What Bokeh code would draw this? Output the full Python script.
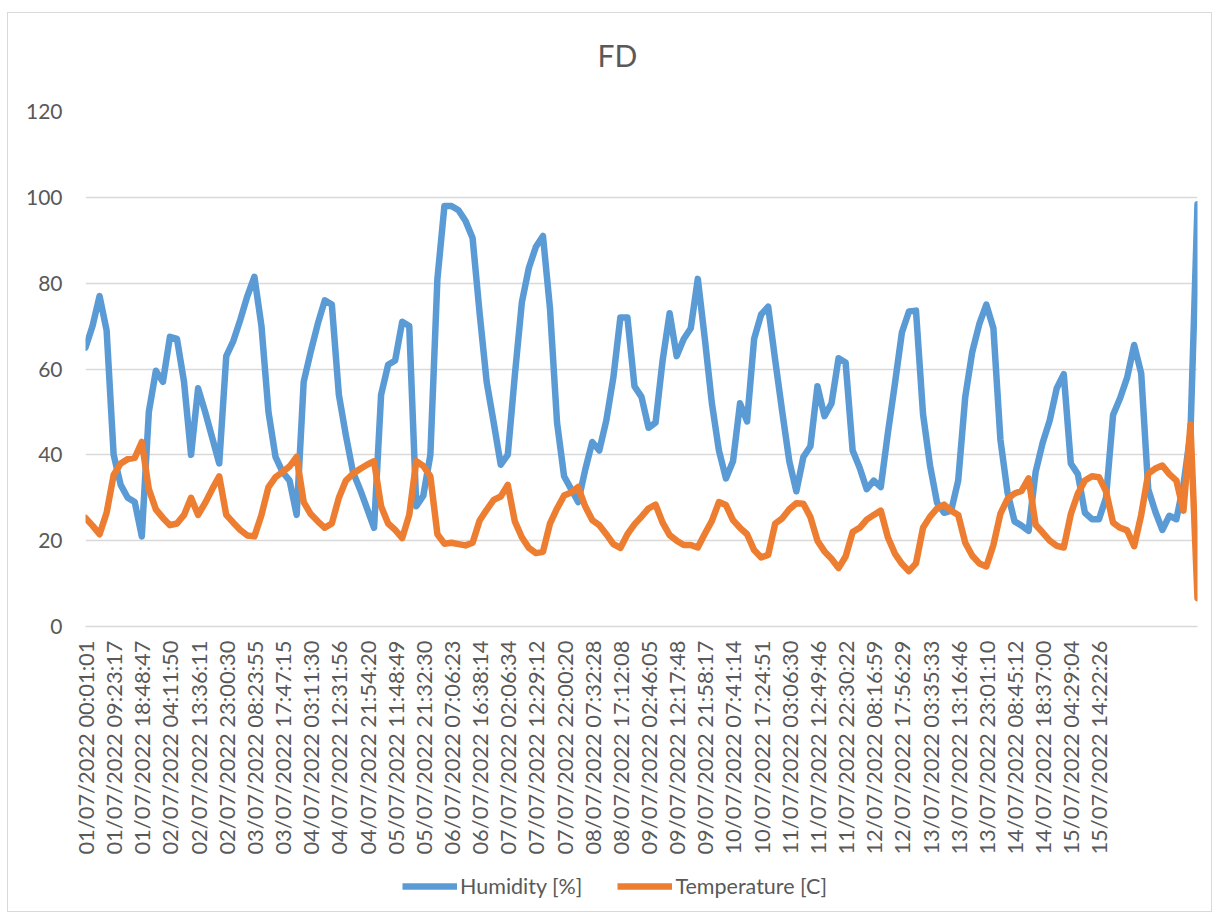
import math
from bokeh.plotting import figure
from bokeh.layouts import column
from bokeh.models import FixedTicker, Legend, LegendItem, Range1d, Label
from bokeh.embed import file_html
from bokeh.resources import INLINE

# ---- data ----
tick_labels = [
    "01/07/2022 00:01:01", "01/07/2022 09:23:17", "01/07/2022 18:48:47",
    "02/07/2022 04:11:50", "02/07/2022 13:36:11", "02/07/2022 23:00:30",
    "03/07/2022 08:23:55", "03/07/2022 17:47:15", "04/07/2022 03:11:30",
    "04/07/2022 12:31:56", "04/07/2022 21:54:20", "05/07/2022 11:48:49",
    "05/07/2022 21:32:30", "06/07/2022 07:06:23", "06/07/2022 16:38:14",
    "07/07/2022 02:06:34", "07/07/2022 12:29:12", "07/07/2022 22:00:20",
    "08/07/2022 07:32:28", "08/07/2022 17:12:08", "09/07/2022 02:46:05",
    "09/07/2022 12:17:48", "09/07/2022 21:58:17", "10/07/2022 07:41:14",
    "10/07/2022 17:24:51", "11/07/2022 03:06:30", "11/07/2022 12:49:46",
    "11/07/2022 22:30:22", "12/07/2022 08:16:59", "12/07/2022 17:56:29",
    "13/07/2022 03:35:33", "13/07/2022 13:16:46", "13/07/2022 23:01:10",
    "14/07/2022 08:45:12", "14/07/2022 18:37:00", "15/07/2022 04:29:04",
    "15/07/2022 14:22:26",
]
points_per_label = 4

humidity = [
    65, 70, 77, 69, 40, 33, 30, 29, 21, 50,
    59.6, 57, 67.5, 67, 57, 40, 55.5, 50, 44, 38,
    63, 66.5, 71.5, 77, 81.5, 70, 50, 39.5, 36, 34,
    26, 57, 64, 70.5, 76, 75, 54, 44.5, 36, 32,
    27.5, 23, 54, 61, 62, 71, 70, 28, 30.5, 40,
    81, 98, 98, 97, 94.5, 90.5, 73, 57, 47.5, 37.7,
    40, 58.5, 75.5, 83.6, 88.5, 91, 74, 47.5, 35, 32,
    29, 36.5, 43, 41, 48, 58, 72, 72, 56, 53.5,
    46.3, 47.5, 62, 73, 63, 67, 69.5, 81, 67, 52,
    41, 34.5, 38.5, 52, 47.8, 67, 72.7, 74.5, 62, 50,
    38.5, 31.5, 39.5, 42, 56, 49, 52, 62.5, 61.5, 41,
    37, 32, 34, 32.5, 45, 56.5, 68.5, 73.4, 73.6, 49.5,
    37.5, 28.8, 26.5, 27, 34, 53.5, 64, 70.5, 75, 69.5,
    43.5, 31.3, 24.5, 23.5, 22.3, 36, 42.8, 48, 55.5, 58.8,
    38, 35.5, 26.5, 25, 25, 30, 49.3, 53.2, 58, 65.6,
    59, 32, 26.8, 22.5, 25.8, 25, 33, 45, 98.4,
]

temperature = [
    25.3, 23.5, 21.5, 26.5, 35.3, 38, 39, 39.3, 43, 32,
    27.3, 25.3, 23.6, 24, 26, 30, 26, 28.8, 32, 35,
    26, 24.2, 22.5, 21.2, 21, 26, 32.5, 34.8, 36, 37.3,
    39.5, 29, 26.2, 24.5, 23, 24, 30, 34, 35.6, 36.7,
    37.7, 38.5, 28, 24, 22.5, 20.6, 26, 38.5, 37.4, 35,
    21.5, 19.3, 19.5, 19.2, 18.9, 19.5, 24.7, 27.2, 29.5, 30.3,
    33, 24.5, 20.8, 18.3, 17.1, 17.4, 24, 27.5, 30.5, 31.2,
    32.5, 28, 24.8, 23.6, 21.5, 19.2, 18.3, 21.5, 23.8, 25.6,
    27.5, 28.4, 24.2, 21.3, 20, 19, 19, 18.4, 21.6, 24.6,
    29, 28.3, 24.8, 23, 21.5, 17.8, 16.1, 16.7, 24, 25.2,
    27.3, 28.7, 28.6, 25.5, 20, 17.5, 15.8, 13.6, 16.3, 22,
    23, 24.9, 26, 27, 20.8, 17, 14.6, 12.9, 14.7, 23,
    25.6, 27.5, 28.4, 27, 26, 19.5, 16.5, 14.7, 14, 19,
    26.3, 29.7, 31, 31.6, 34.5, 23.7, 21.9, 20, 18.8, 18.4,
    26.2, 31, 34, 35, 34.8, 31.5, 24.2, 23, 22.4, 18.7,
    26, 35.6, 36.8, 37.5, 35.5, 34, 27, 47, 6.6,
]

y_ticks = [0, 20, 40, 60, 80, 100, 120]
series_names = ["Humidity [%]", "Temperature [C]"]
series_colors = ["#5B9BD5", "#ED7D31"]
title_text = "FD"

# ---- styling ----
FONT = "Lato"
TXT = "#595959"
GRID = "#d9d9d9"
LW = 6.5
W = 1203

n = len(humidity)
xs = list(range(n))


def strip(height):
    f = figure(
        width=W, height=height,
        output_backend="svg", toolbar_location=None,
        x_range=Range1d(0, 1), y_range=Range1d(0, 1),
        x_axis_location=None, y_axis_location=None,
        min_border=0,
    )
    f.outline_line_color = None
    f.grid.grid_line_color = None
    f.background_fill_color = "white"
    f.border_fill_color = "white"
    return f


# ---- title strip ----
top = strip(70)
top.add_layout(Label(x=532, y=29, x_units="screen", y_units="screen",
                     text=title_text, text_font=FONT, text_font_size="30px",
                     text_color=TXT, text_align="center", text_baseline="middle"))

# ---- main chart ----
p = figure(
    width=W, height=783,
    output_backend="svg", toolbar_location=None,
    x_range=Range1d(0, n - 1), y_range=Range1d(0, 120),
    min_border_left=77, min_border_right=14,
    min_border_top=28, min_border_bottom=240,
)
p.outline_line_color = None
p.background_fill_color = "white"
p.border_fill_color = "white"

p.line(xs, humidity, line_color=series_colors[0], line_width=LW,
       line_join="round", line_cap="round")
p.line(xs, temperature, line_color=series_colors[1], line_width=LW,
       line_join="round", line_cap="round")

tick_pos = [i * points_per_label for i in range(len(tick_labels))]
p.xaxis.ticker = FixedTicker(ticks=tick_pos)
p.xaxis.major_label_overrides = {t: lab for t, lab in zip(tick_pos, tick_labels)}
p.xaxis.major_label_orientation = math.pi / 2
p.xaxis.major_label_text_font = FONT
p.xaxis.major_label_text_font_size = "21.9px"
p.xaxis.major_label_text_color = TXT
p.xaxis.major_label_standoff = 8
p.xaxis.axis_line_color = GRID
p.xaxis.axis_line_width = 1.5
p.xaxis.major_tick_line_color = None
p.xaxis.minor_tick_line_color = None
p.xgrid.grid_line_color = None

p.yaxis.ticker = FixedTicker(ticks=y_ticks)
p.yaxis.major_label_text_font = FONT
p.yaxis.major_label_text_font_size = "21px"
p.yaxis.major_label_text_color = TXT
p.yaxis.major_label_standoff = 17
p.yaxis.axis_line_color = None
p.yaxis.major_tick_line_color = None
p.yaxis.minor_tick_line_color = None
p.ygrid.ticker = FixedTicker(ticks=y_ticks)
p.ygrid.grid_line_color = GRID
p.ygrid.grid_line_width = 1.5

# ---- legend strip (same series, drawn outside its visible range) ----
lg = strip(45)
lh = lg.line(xs, humidity, line_color=series_colors[0], line_width=LW, line_cap="butt")
lt = lg.line(xs, temperature, line_color=series_colors[1], line_width=LW, line_cap="butt")
legend = Legend(
    items=[LegendItem(label=series_names[0], renderers=[lh]),
           LegendItem(label=series_names[1], renderers=[lt])],
    orientation="horizontal", location=(317, 12),
    glyph_width=55, glyph_height=22, label_standoff=3, spacing=35,
    padding=0, margin=0, border_line_color=None, background_fill_alpha=0,
    label_text_font=FONT, label_text_font_size="21.5px", label_text_color=TXT,
)
lg.add_layout(legend)

layout = column(top, p, lg, spacing=0)
layout.styles = {"border": "1px solid #d9d9d9", "margin-left": "7px", "margin-top": "12px"}

open("out.html", "w").write(file_html(layout, INLINE))
